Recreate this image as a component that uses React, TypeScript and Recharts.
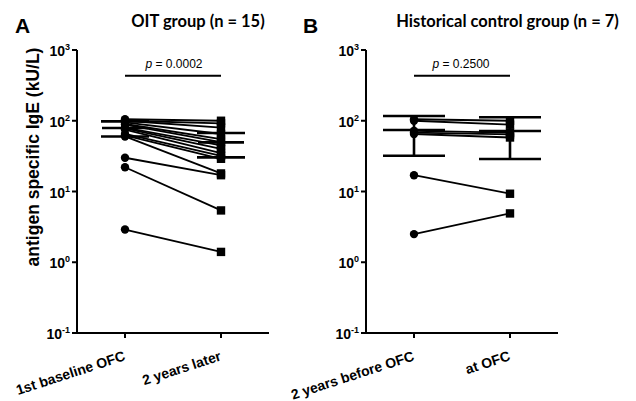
import React from 'react';
import { ComposedChart, Line, Scatter, ErrorBar, XAxis, YAxis, ReferenceLine } from 'recharts';

// ---------- data ----------
const categoriesA = ['1st baseline OFC', '2 years later'];
const categoriesB = ['2 years before OFC', 'at OFC'];
const yTicks = [0.1, 1, 10, 100, 1000];

const oitBaseline = [105, 100, 100, 95, 90, 88, 80, 78, 75, 65, 62, 60, 30, 22, 2.9];
const oitLater = [100, 92, 80, 65, 55, 50, 45, 40, 35, 32, 29, 18, 17, 5.4, 1.4];
const oitMean = [79, 49.5];
const oitLow = [60, 30.4];
const oitHigh = [98, 67];

const ctrlBefore = [105, 100, 72, 68, 65, 17, 2.5];
const ctrlAfter = [100, 88, 68, 64, 58, 9.3, 4.9];
const ctrlMean = [74, 71.6];
const ctrlLow = [32, 28.8];
const ctrlHigh = [117, 112];

const pBarLevel = 432;
const pTextA = '0.0002';
const pTextB = '0.2500';

// ---------- helpers ----------
const FONT = 'Liberation Sans, Arial, Helvetica, sans-serif';

const YTick = (props: any) => {
  const { x, y, payload } = props;
  const exp = Math.round(Math.log10(payload.value));
  return (
    <text x={x} y={y + 6} textAnchor="end" fontFamily={FONT} fontWeight="bold" fontSize={14} fill="#000">
      10
      <tspan fontSize={9} dy={-6}>{exp}</tspan>
    </text>
  );
};

const makeXTick = (labels: string[]) => (props: any) => {
  const { x, y, payload } = props;
  const tx = x + 1;
  const ty = y + 20;
  return (
    <text
      x={tx}
      y={ty}
      textAnchor="end"
      transform={`rotate(-18 ${tx} ${ty})`}
      fontFamily={FONT}
      fontWeight="bold"
      fontSize={14}
      fill="#000"
    >
      {labels[payload.value]}
    </text>
  );
};

const renderDot = (props: any) => {
  const { cx, cy, payload, key } = props;
  if (cx == null || cy == null) return <g key={key} />;
  if (payload.x === 0) return <circle key={key} cx={cx} cy={cy} r={4.2} fill="#000" />;
  return <rect key={key} x={cx - 4.2} y={cy - 4.2} width={8.4} height={8.4} fill="#000" />;
};

const makeMeanShape = (half: number) => (props: any) => {
  const { cx, cy } = props;
  return <line x1={cx - half} x2={cx + half} y1={cy} y2={cy} stroke="#000" strokeWidth={2.6} />;
};

type PanelProps = {
  labels: string[];
  first: number[];
  second: number[];
  mean: number[];
  low: number[];
  high: number[];
  meanHalf: number;
  capWidth: number;
  left: number;
  width: number;
  marginLeft: number;
};

const Panel = ({ labels, first, second, mean, low, high, meanHalf, capWidth, left, width, marginLeft }: PanelProps) => {
  const meanData = mean.map((m, i) => ({ x: i, y: m, err: [m - low[i], high[i] - m] }));
  return (
    <div style={{ position: 'absolute', left, top: 0 }}>
      <ComposedChart
        width={width}
        height={401}
        margin={{ top: 50, right: width - marginLeft - 60 - 192, bottom: 8, left: marginLeft }}
        style={{ overflow: 'visible' }}
      >
        <XAxis
          type="number"
          dataKey="x"
          domain={[-0.5, 1.5]}
          ticks={[0, 1]}
          tick={makeXTick(labels)}
          interval={0}
          height={60}
          axisLine={{ stroke: '#000', strokeWidth: 2 }}
          tickLine={{ stroke: '#000', strokeWidth: 2 }}
          tickSize={5}
          tickMargin={2}
          allowDataOverflow
        />
        <YAxis
          type="number"
          dataKey="y"
          scale="log"
          domain={[0.1, 1000]}
          ticks={yTicks}
          interval={0}
          tick={<YTick />}
          width={60}
          axisLine={{ stroke: '#000', strokeWidth: 2 }}
          tickLine={{ stroke: '#000', strokeWidth: 2 }}
          tickSize={5}
          tickMargin={2}
          allowDataOverflow
        />
        {first.map((v, i) => (
          <Line
            key={'s' + i}
            data={[
              { x: 0, y: v },
              { x: 1, y: second[i] },
            ]}
            dataKey="y"
            stroke="#000"
            strokeWidth={1.8}
            dot={renderDot}
            activeDot={false}
            legendType="none"
            isAnimationActive={false}
          />
        ))}
        <Scatter data={meanData} dataKey="y" shape={makeMeanShape(meanHalf)} isAnimationActive={false}>
          <ErrorBar dataKey="err" direction="y" width={capWidth} stroke="#000" strokeWidth={2.6} isAnimationActive={false} />
        </Scatter>
        <ReferenceLine
          segment={[
            { x: 0, y: pBarLevel },
            { x: 1, y: pBarLevel },
          ]}
          stroke="#000"
          strokeWidth={2}
          ifOverflow="visible"
        />
      </ComposedChart>
    </div>
  );
};

export default function App() {
  return (
    <div style={{ position: 'absolute', left: 0, top: 0, width: 636, height: 401, background: '#fff', overflow: 'hidden' }}>
      <Panel
        labels={categoriesA}
        first={oitBaseline}
        second={oitLater}
        mean={oitMean}
        low={oitLow}
        high={oitHigh}
        meanHalf={23}
        capWidth={24}
        left={0}
        width={280}
        marginLeft={17}
      />
      <Panel
        labels={categoriesB}
        first={ctrlBefore}
        second={ctrlAfter}
        mean={ctrlMean}
        low={ctrlLow}
        high={ctrlHigh}
        meanHalf={31}
        capWidth={31}
        left={250}
        width={380}
        marginLeft={56}
      />
      <svg width={636} height={401} style={{ position: 'absolute', left: 0, top: 0, pointerEvents: 'none' }}>
        <text x={15} y={32.5} fontFamily={FONT} fontWeight="bold" fontSize={21} fill="#000">A</text>
        <text x={303} y={32.5} fontFamily={FONT} fontWeight="bold" fontSize={21} fill="#000">B</text>
        <text x={198} y={27} textAnchor="middle" fontFamily="Lato, sans-serif" fontWeight="bold" fontSize={16.5} fill="#000">
          OIT group (n = 15)
        </text>
        <text x={507.5} y={27} textAnchor="middle" fontFamily="Lato, sans-serif" fontWeight="bold" fontSize={16.5} fill="#000">
          Historical control group (n = 7)
        </text>
        <text x={174} y={67.5} textAnchor="middle" fontFamily={FONT} fontSize={12} fill="#000">
          <tspan fontStyle="italic">p</tspan> = {pTextA}
        </text>
        <text x={461} y={67.5} textAnchor="middle" fontFamily={FONT} fontSize={12} fill="#000">
          <tspan fontStyle="italic">p</tspan> = {pTextB}
        </text>
        <text
          x={39}
          y={157}
          textAnchor="middle"
          transform="rotate(-90 39 157)"
          fontFamily={FONT}
          fontWeight="bold"
          fontSize={17.5}
          fill="#000"
        >
          antigen specific IgE (kU/L)
        </text>
      </svg>
    </div>
  );
}
